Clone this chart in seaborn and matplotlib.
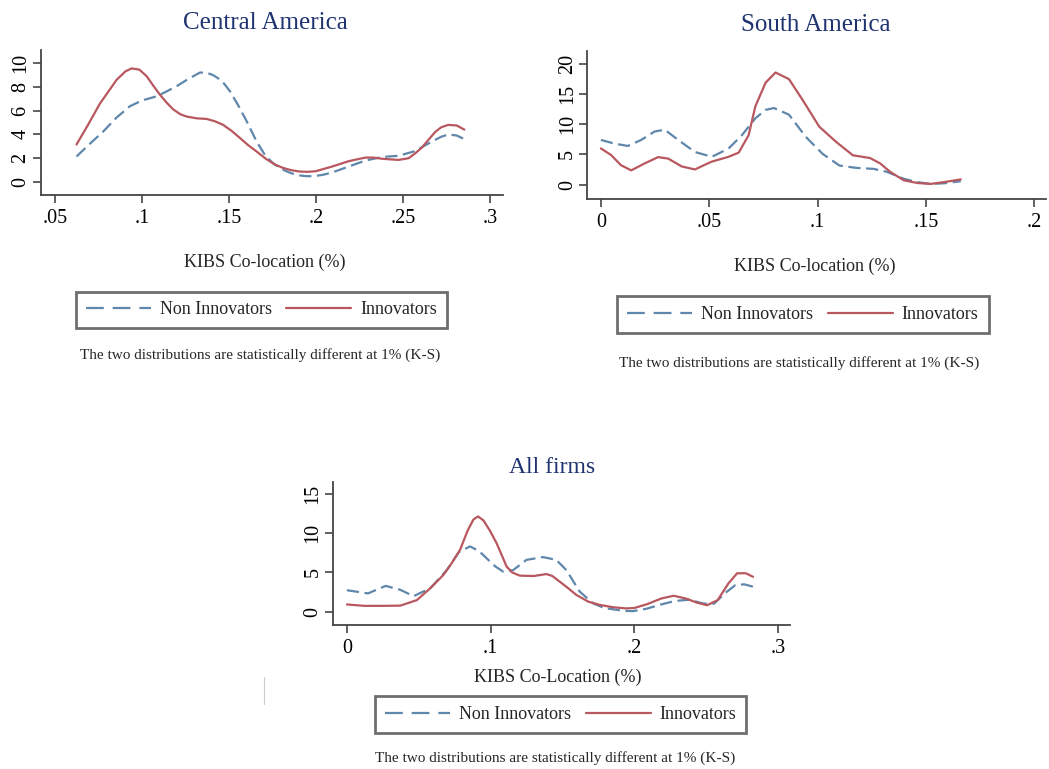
import numpy as np
import pandas as pd
import matplotlib.pyplot as plt
from matplotlib.lines import Line2D
import seaborn as sns

# Values (kernel density curves)
ca_x_inn = [0.0624, 0.0690, 0.0759, 0.0855, 0.0905, 0.0941, 0.0985, 0.1027, 0.1065, 0.1103,
            0.1140, 0.1180, 0.1220, 0.1257, 0.1315, 0.1372, 0.1420, 0.1467, 0.1515, 0.1563,
            0.1610, 0.1659, 0.1712, 0.1760, 0.1807, 0.1855, 0.1903, 0.1950, 0.1998, 0.2046,
            0.2094, 0.2189, 0.2284, 0.2330, 0.2380, 0.2475, 0.2533, 0.2570, 0.2609, 0.2650,
            0.2685, 0.2720, 0.2761, 0.2809, 0.2853]
ca_y_inn = [3.15, 4.8, 6.6, 8.6, 9.3, 9.55, 9.45, 8.9, 8.1, 7.35,
            6.7, 6.1, 5.7, 5.5, 5.35, 5.3, 5.1, 4.8, 4.3, 3.7,
            3.1, 2.56, 1.95, 1.5, 1.2, 1.0, 0.88, 0.85, 0.9, 1.1,
            1.3, 1.75, 2.05, 2.05, 1.95, 1.85, 2.0, 2.4, 2.9, 3.6,
            4.2, 4.6, 4.8, 4.75, 4.4]
ca_x_non = [0.0624, 0.0700, 0.0778, 0.0853, 0.0931, 0.1000, 0.1084, 0.1140, 0.1199, 0.1265,
            0.1333, 0.1370, 0.1410, 0.1460, 0.1506, 0.1555, 0.1602, 0.1659, 0.1712, 0.1760,
            0.1807, 0.1855, 0.1903, 0.1950, 0.1998, 0.2046, 0.2094, 0.2189, 0.2284, 0.2380,
            0.2475, 0.2571, 0.2666, 0.2720, 0.2761, 0.2810, 0.2853]
ca_y_non = [2.14, 3.2, 4.25, 5.4, 6.37, 6.85, 7.2, 7.6, 8.05, 8.65,
            9.2, 9.2, 8.98, 8.5, 7.63, 6.4, 5.1, 3.4, 2.15, 1.5,
            1.05, 0.75, 0.55, 0.48, 0.5, 0.62, 0.8, 1.3, 1.8, 2.1,
            2.2, 2.6, 3.4, 3.8, 4.0, 3.9, 3.6]

sa_x_inn = [0.0, 0.0047, 0.0093, 0.0140, 0.0202, 0.0264, 0.0311, 0.0373, 0.0434, 0.0481,
            0.0512, 0.0589, 0.0636, 0.0682, 0.0713, 0.0760, 0.0806, 0.0868, 0.0930, 0.1008,
            0.1085, 0.1163, 0.1242, 0.1289, 0.1335, 0.1398, 0.1460, 0.1522, 0.1584, 0.1661]
sa_y_inn = [6.0, 4.9, 3.2, 2.35, 3.5, 4.55, 4.3, 3.0, 2.5, 3.3,
            3.8, 4.6, 5.3, 8.2, 13.0, 16.9, 18.6, 17.5, 14.1, 9.6,
            7.1, 4.85, 4.4, 3.5, 2.1, 0.7, 0.25, 0.1, 0.4, 0.85]
sa_x_non = [0.0, 0.0062, 0.0124, 0.0186, 0.0248, 0.0295, 0.0357, 0.0434, 0.0512, 0.0589,
            0.0651, 0.0713, 0.0760, 0.0799, 0.0868, 0.0946, 0.1023, 0.1101, 0.1178, 0.1258,
            0.1320, 0.1398, 0.1460, 0.1522, 0.1584, 0.1661]
sa_y_non = [7.4, 6.8, 6.4, 7.4, 8.8, 9.1, 7.4, 5.4, 4.6, 5.96,
            8.2, 11.0, 12.4, 12.7, 11.6, 7.9, 5.1, 3.15, 2.76, 2.6,
            2.1, 0.95, 0.4, 0.1, 0.2, 0.55]

all_x_inn = [0.0, 0.0123, 0.0246, 0.0372, 0.0487, 0.0580, 0.0672, 0.0730, 0.0788, 0.0840,
             0.0880, 0.0912, 0.0950, 0.0995, 0.1042, 0.1111, 0.1150, 0.1203, 0.1300, 0.1388,
             0.1430, 0.1480, 0.1540, 0.1596, 0.1680, 0.1758, 0.1850, 0.1942, 0.2000, 0.2088,
             0.2187, 0.2273, 0.2359, 0.2432, 0.2506, 0.2580, 0.2654, 0.2715, 0.2776, 0.2826]
all_y_inn = [0.95, 0.77, 0.77, 0.8, 1.5, 3.0, 4.7, 6.2, 7.9, 10.3,
             11.7, 12.1, 11.6, 10.3, 8.7, 5.76, 5.0, 4.6, 4.55, 4.8,
             4.55, 3.85, 3.0, 2.16, 1.3, 0.9, 0.6, 0.45, 0.5, 0.98,
             1.7, 2.05, 1.7, 1.2, 0.85, 1.5, 3.6, 4.9, 4.9, 4.45]
all_x_non = [0.0, 0.0074, 0.0147, 0.0270, 0.0372, 0.0464, 0.0580, 0.0695, 0.0780, 0.0857,
             0.0920, 0.0972, 0.1030, 0.1088, 0.1157, 0.1250, 0.1365, 0.1457, 0.1527, 0.1619,
             0.1711, 0.1790, 0.1850, 0.1920, 0.1990, 0.2088, 0.2187, 0.2285, 0.2383, 0.2482,
             0.2555, 0.2629, 0.2703, 0.2764, 0.2826]
all_y_non = [2.75, 2.55, 2.35, 3.3, 2.8, 2.0, 3.0, 5.3, 7.6, 8.3,
             7.7, 6.8, 5.8, 5.1, 5.3, 6.6, 6.95, 6.6, 5.3, 2.6,
             1.1, 0.5, 0.34, 0.15, 0.1, 0.42, 0.95, 1.4, 1.55, 1.05,
             1.05, 2.35, 3.4, 3.5, 3.2]

titles = ['Central America', 'South America', 'All firms']
xlabels = ['KIBS Co-location (%)', 'KIBS Co-location (%)', 'KIBS Co-Location (%)']
note = 'The two distributions are statistically different at 1% (K-S)'
groups = ['Non Innovators', 'Innovators']

ca_xticks = [0.05, 0.1, 0.15, 0.2, 0.25, 0.3]
ca_xticklabels = ['.05', '.1', '.15', '.2', '.25', '.3']
ca_yticks = [0, 2, 4, 6, 8, 10]
sa_xticks = [0, 0.05, 0.1, 0.15, 0.2]
sa_xticklabels = ['0', '.05', '.1', '.15', '.2']
sa_yticks = [0, 5, 10, 15, 20]
all_xticks = [0, 0.1, 0.2, 0.3]
all_xticklabels = ['0', '.1', '.2', '.3']
all_yticks = [0, 5, 10, 15]


def make_df(x_non, y_non, x_inn, y_inn):
    d1 = pd.DataFrame({'x': x_non, 'y': y_non, 'group': 'Non Innovators'})
    d2 = pd.DataFrame({'x': x_inn, 'y': y_inn, 'group': 'Innovators'})
    return pd.concat([d1, d2], ignore_index=True)


sns.set_style('ticks')
plt.rcParams['font.family'] = ['Liberation Serif', 'DejaVu Serif']

palette = {'Non Innovators': '#5f87ab', 'Innovators': '#b9575f'}
dashes = {'Non Innovators': (5.5, 2.5), 'Innovators': ''}
navy = '#1f3370'
axcol = '#454545'

fig = plt.figure(figsize=(10.49, 7.69), dpi=100)

# axes rectangles in figure fraction
ax1 = fig.add_axes([0.0391, 0.7464, 0.4404, 0.1886])
ax2 = fig.add_axes([0.5600, 0.7412, 0.4371, 0.1930])
ax3 = fig.add_axes([0.3174, 0.1873, 0.4357, 0.1863])

panels = [
    (ax1, make_df(ca_x_non, ca_y_non, ca_x_inn, ca_y_inn), (0.042, 0.3075), (-1.1, 11.1),
     ca_xticks, ca_xticklabels, ca_yticks,
     (0.485, 1.185), (0.485, -0.462), (0.2493, 0.5969), (0.2479, 0.5384)),
    (ax2, make_df(sa_x_non, sa_y_non, sa_x_inn, sa_y_inn), (-0.0062, 0.2054), (-2.41, 22.24),
     sa_xticks, sa_xticklabels, sa_yticks,
     (0.498, 1.175), (0.496, -0.455), (0.7655, 0.5910), (0.7620, 0.5283)),
    (ax3, make_df(all_x_non, all_y_non, all_x_inn, all_y_inn), (-0.0097, 0.3083), (-1.65, 16.5),
     all_xticks, all_xticklabels, all_yticks,
     (0.4787, 1.10), (0.492, -0.363), (0.5347, 0.0709), (0.5291, 0.0143)),
]

for i, (ax, df, xlim, ylim, xt, xtl, yt, tpos, lpos, legpos, notepos) in enumerate(panels):
    sns.lineplot(data=df, x='x', y='y', hue='group', style='group',
                 hue_order=groups, style_order=groups,
                 palette=palette, dashes=dashes, estimator=None,
                 linewidth=1.6, legend=False, ax=ax,
                 solid_joinstyle='round', dash_joinstyle='round')
    ax.set_xlim(*xlim)
    ax.set_ylim(*ylim)
    ax.set_xticks(xt)
    ax.set_xticklabels(xtl)
    ax.set_yticks(yt)
    ax.set_yticklabels([str(v) for v in yt], rotation=90, va='center')
    ax.tick_params(axis='both', direction='out', length=6, width=1.2,
                   colors=axcol, labelcolor='black', labelsize=14.5)
    ax.tick_params(axis='x', pad=4)
    ax.tick_params(axis='y', pad=1.5)
    for s in ['top', 'right']:
        ax.spines[s].set_visible(False)
    for s in ['left', 'bottom']:
        ax.spines[s].set_color(axcol)
        ax.spines[s].set_linewidth(1.3)

    ax.set_ylabel('')
    ax.set_xlabel(xlabels[i], fontsize=13)
    ax.xaxis.label.set_va('center')
    ax.xaxis.set_label_coords(*lpos)

    ax.text(tpos[0], tpos[1], titles[i], transform=ax.transAxes,
            ha='center', va='center', fontsize=18 if i < 2 else 17, color=navy)

    handles = [Line2D([], [], color=palette['Non Innovators'], lw=1.6, dashes=(8, 4)),
               Line2D([], [], color=palette['Innovators'], lw=1.6)]
    leg = ax.legend(handles, groups, loc='center', bbox_to_anchor=legpos,
                    bbox_transform=fig.transFigure, ncol=2, fontsize=13,
                    frameon=True, fancybox=False, handlelength=3.6,
                    columnspacing=0.8, handletextpad=0.5,
                    borderpad=0.55, borderaxespad=0)
    leg.get_frame().set_edgecolor('#4a4a4a')
    leg.get_frame().set_linewidth(2.0)

    fig.text(notepos[0], notepos[1], note, ha='center', va='center', fontsize=11)

# small stray mark left of the bottom panel's legend
fig.add_artist(Line2D([264 / 1049, 264 / 1049], [1 - 677 / 769, 1 - 704 / 769],
                      color='#cccccc', lw=0.8))

fig.savefig('out.png', dpi=100, facecolor='white')
